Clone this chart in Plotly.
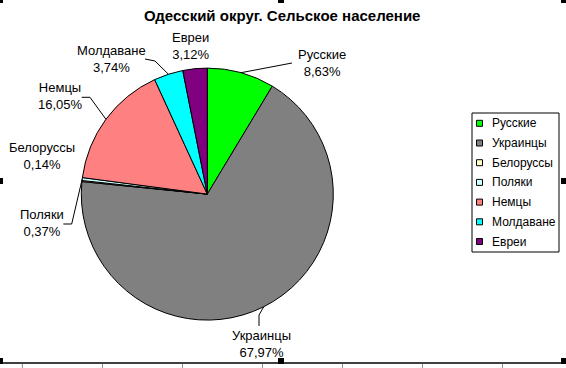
import math
import plotly.graph_objects as go

# ---- data ----
categories = ["Русские", "Украинцы", "Белоруссы", "Поляки", "Немцы", "Молдаване", "Евреи"]
shares = [8.63, 67.97, 0.14, 0.37, 16.05, 3.74, 3.12]
share_labels = ["8,63%", "67,97%", "0,14%", "0,37%", "16,05%", "3,74%", "3,12%"]
colors = ["#00FF00", "#808080", "#FFFFCC", "#CCFFFF", "#FF8080", "#00FFFF", "#800080"]
title_text = "Одесский округ. Сельское население"

# ---- layout constants (pixels) ----
W, H = 566, 368
CX, CY, R = 207.3, 194.1, 126.0
FONT = "Arial, 'Liberation Sans', sans-serif"

# label block centres
label_pos = [(322, 63.5), (261, 344), (42, 155.5), (41.7, 222.5), (60, 95.5), (111, 58.5), (190.5, 46)]
# leader-line extra points (from pie edge outward); None = no leader
leaders = [
    [(292, 63)],
    [(259, 315), (259, 326)],
    None,
    [(71.7, 224), (63.3, 224)],
    [(90, 97.3), (81.7, 97.3)],
    [(155, 61), (145, 59)],
    None,
]


def px(x):
    return x / W


def py(y):
    return 1 - y / H


fig = go.Figure()
fig.add_trace(go.Pie(
    labels=categories,
    values=shares,
    sort=False,
    direction="clockwise",
    rotation=0,
    textinfo="none",
    hoverinfo="label+percent",
    marker=dict(colors=colors, line=dict(color="black", width=1)),
    domain=dict(x=[px(CX - R), px(CX + R)], y=[py(CY + R), py(CY - R)]),
    showlegend=False,
))

shapes = []
annotations = []

# title
annotations.append(dict(
    x=px(282), y=py(16), xref="paper", yref="paper", xanchor="center", yanchor="middle",
    text="<b>" + title_text + "</b>", showarrow=False,
    font=dict(family=FONT, size=15, color="black"),
))

# data labels + leader lines
total = sum(shares)
cum = 0.0
for i, (cat, v) in enumerate(zip(categories, shares)):
    mid = (cum + v / 2) / total * 2 * math.pi
    cum += v
    ex = CX + R * math.sin(mid)
    ey = CY - R * math.cos(mid)
    lx, ly = label_pos[i]
    annotations.append(dict(
        x=px(lx), y=py(ly), xref="paper", yref="paper", xanchor="center", yanchor="middle",
        text=cat + "<br>" + share_labels[i], showarrow=False, align="center",
        font=dict(family=FONT, size=13, color="black"),
    ))
    if leaders[i]:
        pts = [(ex, ey)] + leaders[i]
        path = "M " + " L ".join(f"{px(x):.5f},{py(y):.5f}" for x, y in pts)
        shapes.append(dict(type="path", path=path, xref="paper", yref="paper",
                           line=dict(color="black", width=1)))

# legend (manual, Excel style)
LX0, LX1, LY0, LY1 = 472, 559, 113, 252
shapes.append(dict(type="rect", xref="paper", yref="paper",
                   x0=px(LX0), x1=px(LX1), y0=py(LY1), y1=py(LY0),
                   line=dict(color="black", width=1), fillcolor="white"))
for i, cat in enumerate(categories):
    yc = 123.3 + i * 19.7
    shapes.append(dict(type="rect", xref="paper", yref="paper",
                       x0=px(476.5), x1=px(482.5), y0=py(yc + 3), y1=py(yc - 3),
                       line=dict(color="black", width=1), fillcolor=colors[i]))
    annotations.append(dict(
        x=px(490), y=py(yc), xref="paper", yref="paper", xanchor="left", yanchor="middle",
        text=cat, showarrow=False, font=dict(family=FONT, size=12, color="black"),
    ))

# sheet border line, column ticks and selection handles
shapes.append(dict(type="line", xref="paper", yref="paper", x0=0, x1=1, y0=py(363), y1=py(363),
                   line=dict(color="black", width=1.5)))
for tx in [22.4, 102.5, 182.5, 262.5, 342.5, 422.5, 502.5]:
    shapes.append(dict(type="line", xref="paper", yref="paper", x0=px(tx), x1=px(tx),
                       y0=py(364), y1=py(368), line=dict(color="#909090", width=1)))
handles = [(0, 3, 0, 3), (278, 284, 0, 3), (561, 566, 0, 3),
           (0, 3, 178, 184), (561, 566, 178, 184),
           (0, 3, 358, 364), (278, 284, 358, 364), (561, 566, 358, 364)]
for x0, x1, y0, y1 in handles:
    shapes.append(dict(type="rect", xref="paper", yref="paper",
                       x0=px(x0), x1=px(x1), y0=py(y1), y1=py(y0),
                       line=dict(width=0), fillcolor="black"))

fig.update_layout(
    width=W, height=H,
    margin=dict(l=0, r=0, t=0, b=0),
    paper_bgcolor="white", plot_bgcolor="white",
    shapes=shapes, annotations=annotations,
    showlegend=False,
)

fig.write_html("out.html", config={"displayModeBar": False})
